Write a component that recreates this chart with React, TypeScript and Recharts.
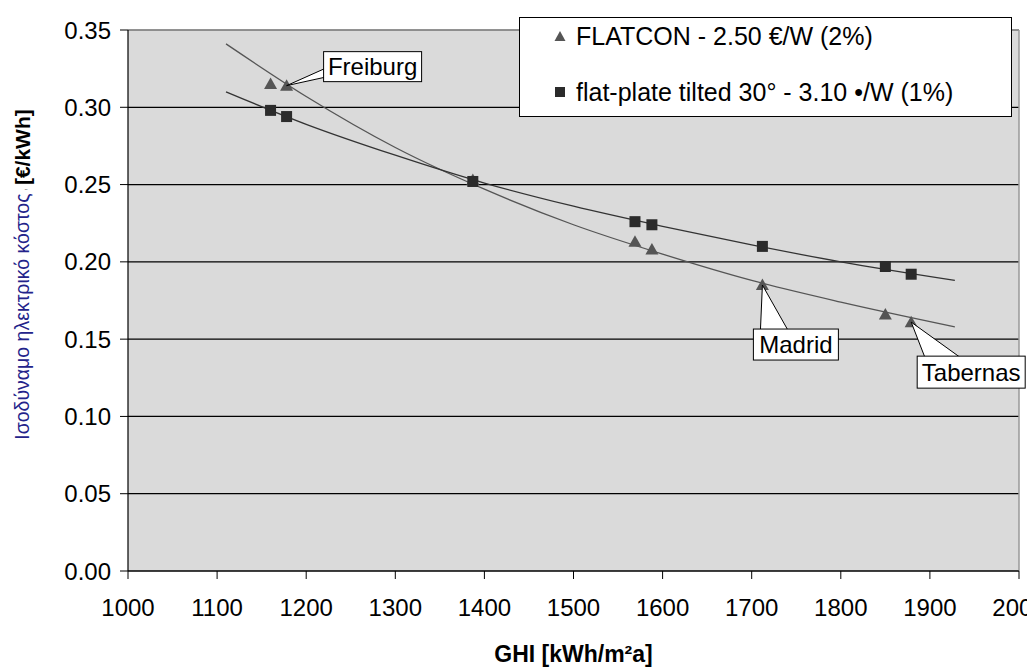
import React from "react";
import {
  ComposedChart,
  Line,
  Scatter,
  XAxis,
  YAxis,
  CartesianGrid,
  ReferenceLine,
  ReferenceDot,
  Legend,
} from "recharts";

// measured sites (GHI in kWh/m²a) and levelised cost in €/kWh
const ghi = [1160, 1178, 1387, 1569, 1588, 1712, 1850, 1879];
const flatconCost = [0.315, 0.314, 0.253, 0.213, 0.208, 0.185, 0.166, 0.161];
const flatPlateCost = [0.298, 0.294, 0.252, 0.226, 0.224, 0.21, 0.197, 0.192];

// trendlines
const trendGhi = [1110, 1200, 1300, 1400, 1500, 1600, 1700, 1800, 1928];
const flatconTrend = [0.341, 0.307, 0.274, 0.247, 0.224, 0.205, 0.188, 0.174, 0.158];
const flatPlateTrend = [0.31, 0.289, 0.269, 0.251, 0.236, 0.223, 0.211, 0.2, 0.188];

const seriesNames = ["FLATCON - 2.50 €/W (2%)", "flat-plate tilted 30° - 3.10 •/W (1%)"];

const siteNames = ["Freiburg", "Madrid", "Tabernas"];
const siteIndex = [1, 5, 7];

const xTicks = [1000, 1100, 1200, 1300, 1400, 1500, 1600, 1700, 1800, 1900, 2000];
const yTicks = [0, 0.05, 0.1, 0.15, 0.2, 0.25, 0.3, 0.35];

const FONT = '"Liberation Sans", Arial, Helvetica, sans-serif';
const TRI = "#555555";
const SQ = "#2b2b2b";

const flatconPts = ghi.map((x, i) => ({ x, y: flatconCost[i] }));
const flatPlatePts = ghi.map((x, i) => ({ x, y: flatPlateCost[i] }));
const flatconLine = trendGhi.map((x, i) => ({ x, y: flatconTrend[i] }));
const flatPlateLine = trendGhi.map((x, i) => ({ x, y: flatPlateTrend[i] }));

const Triangle = (p: any) => {
  const { cx, cy } = p;
  if (cx == null || cy == null) return <g />;
  return <polygon points={`${cx},${cy - 6.5} ${cx + 6.5},${cy + 5} ${cx - 6.5},${cy + 5}`} fill={TRI} />;
};

const Square = (p: any) => {
  const { cx, cy } = p;
  if (cx == null || cy == null) return <g />;
  return <rect x={cx - 5.5} y={cy - 5.5} width={11} height={11} fill={SQ} />;
};

// callout box offsets relative to the marked point
const callouts: Record<string, { dx: number; dy: number; w: number; h: number; base: number[][] }> = {
  Freiburg: { dx: 37, dy: -34, w: 98, h: 30, base: [[38, -17], [41, -9]] },
  Madrid: { dx: -9, dy: 44, w: 85, h: 31, base: [[-2, 46], [26, 46]] },
  Tabernas: { dx: 6, dy: 34, w: 108, h: 32, base: [[14, 36], [50, 36]] },
};

const Callout = ({ cx, cy, name }: any) => {
  const c = callouts[name];
  if (cx == null || cy == null) return <g />;
  const bx = cx + c.dx;
  const by = cy + c.dy;
  const pts = `${cx},${cy} ${cx + c.base[0][0]},${cy + c.base[0][1]} ${cx + c.base[1][0]},${cy + c.base[1][1]}`;
  return (
    <g>
      <polygon points={pts} fill="#fff" stroke="#000" strokeWidth={1} />
      <rect x={bx} y={by} width={c.w} height={c.h} fill="#fff" stroke="#000" strokeWidth={1} />
      <text x={bx + c.w / 2} y={by + c.h / 2 + 8.5} textAnchor="middle" fontFamily={FONT} fontSize={24} fill="#000">
        {name}
      </text>
    </g>
  );
};

const YTitle = (props: any) => {
  const vb = props.viewBox || { x: 0, y: 30, width: 128, height: 541 };
  const cx = 22;
  const cy = vb.y + vb.height / 2 - 26;
  return (
    <text x={cx} y={cy} transform={`rotate(-90, ${cx}, ${cy})`} textAnchor="middle" dominantBaseline="central" fontFamily={FONT}>
      <tspan fill="#23238a" fontSize={19.5}>Ισοδύναμο ηλεκτρικό κόστος</tspan>
      <tspan fill="#888" fontSize={10}> , </tspan>
      <tspan fill="#000" fontSize={21} fontWeight="bold">[€/kWh]</tspan>
    </text>
  );
};

const XTitle = (props: any) => {
  const vb = props.viewBox || { x: 128, y: 571, width: 891, height: 100 };
  return (
    <text x={vb.x + vb.width / 2} y={vb.y + vb.height - 9} textAnchor="middle" fontFamily={FONT} fontSize={23} fontWeight="bold" fill="#000">
      GHI [kWh/m²a]
    </text>
  );
};

const LegendBox = () => (
  <div
    style={{
      width: 493,
      height: 100,
      boxSizing: "border-box",
      border: "1.5px solid #000",
      background: "#fff",
      fontFamily: FONT,
      fontSize: 25,
      color: "#000",
      position: "relative",
    }}
  >
    {seriesNames.map((name, i) => (
      <div key={name} style={{ position: "absolute", left: 32, top: i === 0 ? 3 : 59, display: "flex", alignItems: "center", whiteSpace: "nowrap", lineHeight: "30px" }}>
        <svg width={16} height={16} style={{ marginRight: 8 }}>
          {i === 0 ? <polygon points="8,3 13.5,13 2.5,13" fill={TRI} /> : <rect x={3} y={3} width={10} height={10} fill={SQ} />}
        </svg>
        <span>{name}</span>
      </div>
    ))}
  </div>
);

export default function App() {
  return (
    <div style={{ position: "absolute", left: 0, top: 0, width: 1027, height: 671, overflow: "hidden", background: "#fff" }}>
      <ComposedChart width={1027} height={671} margin={{ top: 30, right: 8, bottom: 0, left: 0 }}>
        <CartesianGrid vertical={false} stroke="#000" strokeWidth={1.2} fill="#dadada" fillOpacity={1} />
        <XAxis
          type="number"
          dataKey="x"
          domain={[1000, 2000]}
          ticks={xTicks}
          interval={0}
          allowDataOverflow
          height={100}
          tickSize={8}
          tickMargin={20}
          axisLine={{ stroke: "#000", strokeWidth: 1.2 }}
          tickLine={{ stroke: "#000" }}
          tick={{ fill: "#000", fontSize: 24, fontFamily: FONT }}
          label={{ content: XTitle }}
        />
        <YAxis
          type="number"
          dataKey="y"
          domain={[0, 0.35]}
          ticks={yTicks}
          interval={0}
          width={128}
          tickSize={8}
          tickMargin={9}
          tickFormatter={(v: number) => v.toFixed(2)}
          axisLine={{ stroke: "#000", strokeWidth: 1.2 }}
          tickLine={{ stroke: "#000" }}
          tick={{ fill: "#000", fontSize: 24, fontFamily: FONT }}
          label={{ content: YTitle }}
        />
        <ReferenceLine y={0.35} stroke="#999" strokeWidth={1.5} />
        <ReferenceLine x={2000} stroke="#999" strokeWidth={1.5} />
        <Line data={flatconLine} dataKey="y" type="monotone" stroke="#555" strokeWidth={1.3} dot={false} activeDot={false} isAnimationActive={false} legendType="none" />
        <Line data={flatPlateLine} dataKey="y" type="monotone" stroke="#333" strokeWidth={1.3} dot={false} activeDot={false} isAnimationActive={false} legendType="none" />
        <Scatter name={seriesNames[0]} data={flatconPts} dataKey="y" shape={Triangle} isAnimationActive={false} />
        <Scatter name={seriesNames[1]} data={flatPlatePts} dataKey="y" shape={Square} isAnimationActive={false} />
        {siteNames.map((name, i) => (
          <ReferenceDot
            key={name}
            x={ghi[siteIndex[i]]}
            y={flatconCost[siteIndex[i]]}
            ifOverflow="visible"
            shape={(p: any) => <Callout cx={p.cx} cy={p.cy} name={name} />}
          />
        ))}
        <Legend
          layout="horizontal"
          verticalAlign="middle"
          align="center"
          content={LegendBox}
          wrapperStyle={{ position: "absolute", left: 519, top: 17, width: 493, height: 100 }}
        />
      </ComposedChart>
    </div>
  );
}
